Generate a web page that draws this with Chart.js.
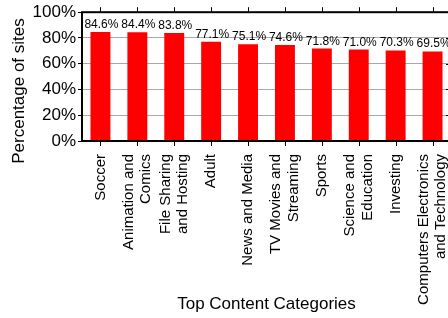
<!DOCTYPE html>
<html>
<head>
<meta charset="utf-8">
<script src="https://cdn.jsdelivr.net/npm/chart.js@4/dist/chart.umd.min.js"></script>
<style>
  html, body { margin: 0; padding: 0; background: #fff; overflow: hidden; width: 448px; height: 318px; }
  canvas { display: block; }
</style>
</head>
<body>
<canvas id="c" width="460" height="318"></canvas>
<script>
// ---- data ----
const categories = [
  ["Soccer"],
  ["Animation and", "Comics"],
  ["File Sharing", "and Hosting"],
  ["Adult"],
  ["News and Media"],
  ["TV Movies and", "Streaming"],
  ["Sports"],
  ["Science and", "Education"],
  ["Investing"],
  ["Computers Electronics", "and Technology"]
];
const percentages = [84.6, 84.4, 83.8, 77.1, 75.1, 74.6, 71.8, 71.0, 70.3, 69.5];
const yTicks = [0, 20, 40, 60, 80, 100];
const xTitle = "Top Content Categories";
const yTitle = "Percentage of sites";

const FONT = "'Liberation Sans', Arial, Helvetica, sans-serif";
Chart.defaults.font.family = FONT;
Chart.defaults.color = '#000';

const decorPlugin = {
  id: 'decor',
  afterDraw(chart) {
    const ctx = chart.ctx;
    const a = chart.chartArea;
    const xs = chart.scales.x, ys = chart.scales.y;
    ctx.save();
    // ticks
    ctx.strokeStyle = '#000';
    ctx.lineWidth = 1;
    ctx.beginPath();
    categories.forEach((c, i) => {
      const x = Math.round(xs.getPixelForValue(i)) + 0.5;
      ctx.moveTo(x, a.top - 5); ctx.lineTo(x, a.top);
      ctx.moveTo(x, a.bottom); ctx.lineTo(x, a.bottom + 5);
    });
    yTicks.forEach(v => {
      const y = Math.round(ys.getPixelForValue(v)) + 0.5;
      ctx.moveTo(a.right - 5, y); ctx.lineTo(a.right, y);
    });
    ctx.stroke();
    // border
    ctx.lineWidth = 2;
    ctx.strokeRect(a.left, a.top, a.right - a.left, a.bottom - a.top);
    // value labels
    const meta = chart.getDatasetMeta(0);
    ctx.fillStyle = '#000';
    ctx.font = '12px ' + FONT;
    ctx.textAlign = 'center';
    ctx.textBaseline = 'alphabetic';
    meta.data.forEach((bar, i) => {
      ctx.fillText(percentages[i].toFixed(1) + '%', bar.x + 1, bar.y - 4);
    });
    // category labels (rotated, multi-line centered on tick)
    ctx.font = '15px ' + FONT;
    const lh = 17.5;
    categories.forEach((lines, i) => {
      const x = xs.getPixelForValue(i);
      ctx.save();
      ctx.translate(x, a.bottom + 13);
      ctx.rotate(-Math.PI / 2);
      ctx.textAlign = 'right';
      ctx.textBaseline = 'middle';
      lines.forEach((ln, j) => {
        ctx.fillText(ln, 0, (j - (lines.length - 1) / 2) * lh);
      });
      ctx.restore();
    });
    // y axis title
    ctx.font = '17px ' + FONT;
    ctx.save();
    ctx.translate(19, 91);
    ctx.rotate(-Math.PI / 2);
    ctx.textAlign = 'center';
    ctx.textBaseline = 'middle';
    ctx.fillText(yTitle, 0, 0);
    ctx.restore();
    ctx.restore();
  }
};

new Chart(document.getElementById('c'), {
  type: 'bar',
  data: {
    labels: categories,
    datasets: [{
      data: percentages,
      backgroundColor: '#ff0000',
      borderWidth: 0,
      barPercentage: 0.54,
      categoryPercentage: 1.0
    }]
  },
  options: {
    responsive: false,
    animation: false,
    devicePixelRatio: 1,
    layout: { padding: { top: 10, right: 9, left: 0, bottom: 0 } },
    plugins: { legend: { display: false }, tooltip: { enabled: false } },
    scales: {
      x: {
        grid: { display: false },
        border: { display: false },
        ticks: { display: false },
        title: {
          display: true, text: xTitle,
          font: { size: 17 }, color: '#000',
          padding: { top: 0, bottom: 3 }
        },
        afterFit(s) { s.height = 177; }
      },
      y: {
        min: 0, max: 100,
        afterBuildTicks(s) { s.ticks = yTicks.map(v => ({ value: v })); },
        ticks: {
          font: { size: 17 }, color: '#000', padding: 2,
          callback: v => v + '%'
        },
        grid: {
          color: '#a8a8a8', lineWidth: 1, borderDash: [1, 2],
          drawTicks: true, tickLength: 4, tickColor: '#000', tickWidth: 1, tickBorderDash: []
        },
        border: { display: false },
        title: { display: false },
        afterFit(s) { s.width = 82; }
      }
    }
  },
  plugins: [decorPlugin]
});
</script>
</body>
</html>
